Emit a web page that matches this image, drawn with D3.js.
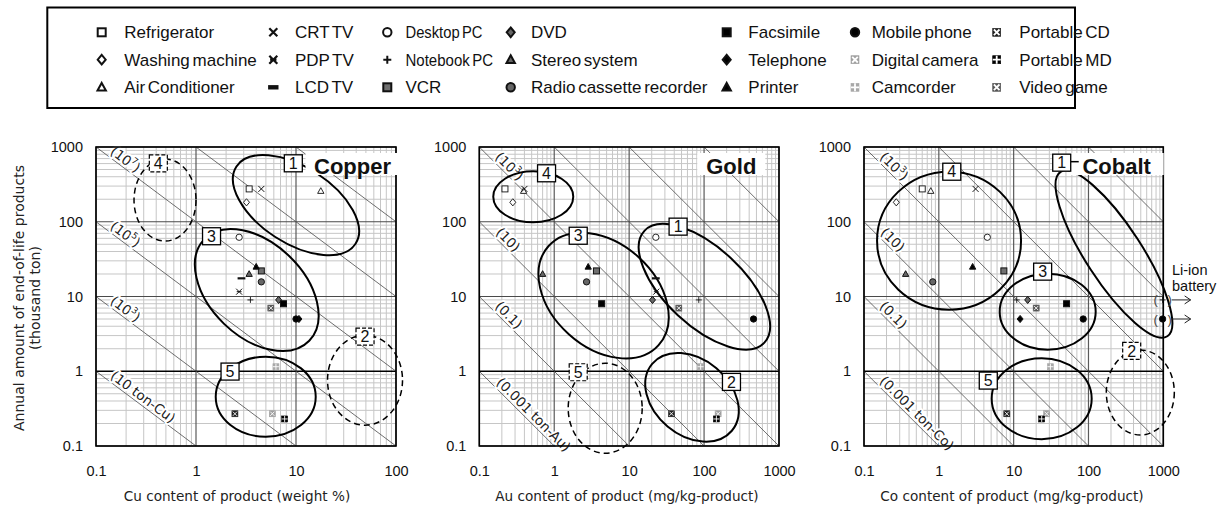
<!DOCTYPE html>
<html>
<head>
<meta charset="utf-8">
<script src="https://cdn.jsdelivr.net/npm/d3@7"></script>
<style>
body { margin: 0; background: #fff; }
svg { display: block; font-family: "Liberation Sans", Arial, sans-serif; }
</style>
</head>
<body>
<div id="root"></div>
<script>
// products, column by column as in the legend
var products = ["Refrigerator", "Washing machine", "Air Conditioner",
                "CRT TV", "PDP TV", "LCD TV",
                "Desktop PC", "Notebook PC", "VCR",
                "DVD", "Stereo system", "Radio cassette recorder",
                "Facsimile", "Telephone", "Printer",
                "Mobile phone", "Digital camera", "Camcorder",
                "Portable CD", "Portable MD", "Video game"];
// annual amount of end-of-life products (thousand ton)
var amount = [275, 182, 258, 275, 11.6, 17.5, 62, 9, 22, 9, 20, 15.7, 8, 5, 25, 5, 0.27, 1.15, 0.27, 0.23, 7];
// Cu content (weight %)
var cuContent = [3.4, 3.2, 17.7, 4.5, 2.7, 2.85, 2.7, 3.5, 4.5, 6.7, 3.4, 4.5, 7.5, 10.7, 4.0, 10, 5.8, 6.3, 2.45, 7.7, 5.6];
// Au content (mg/kg-product)
var auContent = [0.22, 0.28, 0.39, 0.40, 23, 22.7, 22.7, 85, 3.66, 20.5, 0.7, 2.7, 4.3, null, 2.84, 457, 154, 90, 36.7, 146, 46];
// Co content (mg/kg-product)
var coContent = [0.6, 0.27, 0.78, 3.1, null, null, 4.45, 11, 7.4, 15.4, 0.36, 0.83, 51, 12.2, 2.83, 85, 27.6, 31, 8.1, 23.7, 20];
// Li-ion battery points in the cobalt panel
var liIonProducts = ["Notebook PC", "Mobile phone"];
var liIonCo = [980, 980];

var yTicks = [0.1, 1, 10, 100, 1000];

// marker look per product (same order as products)
var markerStyle = [
  {shape: "square", fill: "#fff"}, {shape: "diamond", fill: "#fff"}, {shape: "triangle", fill: "#fff"},
  {shape: "cross"}, {shape: "star"}, {shape: "dash"},
  {shape: "circle", fill: "#fff"}, {shape: "plus"}, {shape: "square", fill: "#707070"},
  {shape: "diamond", fill: "#666"}, {shape: "triangle", fill: "#666"}, {shape: "circle", fill: "#666"},
  {shape: "square", fill: "#000"}, {shape: "diamond", fill: "#000"}, {shape: "triangle", fill: "#000"},
  {shape: "circle", fill: "#000"}, {shape: "boxX", fill: "#a0a0a0"}, {shape: "boxPlus", fill: "#a8a8a8"},
  {shape: "boxX", fill: "#222"}, {shape: "boxPlus", fill: "#000"}, {shape: "boxX", fill: "#555"}
];

var W = 1222, H = 506;
var svg = d3.select("#root").append("svg").attr("width", W).attr("height", H);

function drawMarker(g, st, s, sw) {
  var k = st.shape, col = "#111";
  if (k === "square") {
    g.append("rect").attr("x", -s).attr("y", -s).attr("width", 2 * s).attr("height", 2 * s)
      .attr("fill", st.fill).attr("stroke", col).attr("stroke-width", sw);
  } else if (k === "diamond") {
    g.append("path").attr("d", "M0," + (-s * 1.2) + "L" + s + ",0L0," + (s * 1.2) + "L" + (-s) + ",0Z")
      .attr("fill", st.fill).attr("stroke", col).attr("stroke-width", sw);
  } else if (k === "triangle") {
    g.append("path").attr("d", "M0," + (-s * 1.1) + "L" + (s * 1.05) + "," + (s * 0.8) + "L" + (-s * 1.05) + "," + (s * 0.8) + "Z")
      .attr("fill", st.fill).attr("stroke", col).attr("stroke-width", sw).attr("stroke-linejoin", "miter");
  } else if (k === "circle") {
    g.append("circle").attr("r", s * 1.05).attr("fill", st.fill).attr("stroke", col).attr("stroke-width", sw);
  } else if (k === "cross") {
    g.append("path").attr("d", "M" + (-s) + "," + (-s) + "L" + s + "," + s + "M" + (-s) + "," + s + "L" + s + "," + (-s))
      .attr("stroke", col).attr("stroke-width", sw * 1.1);
  } else if (k === "star") {
    g.append("path").attr("d", "M" + (-s) + "," + (-s) + "L" + s + "," + s + "M" + (-s) + "," + s + "L" + s + "," + (-s) + "M" + (-s * 0.8) + ",0H" + (s * 0.8))
      .attr("stroke", col).attr("stroke-width", sw * 1.1);
  } else if (k === "dash") {
    g.append("path").attr("d", "M" + (-s * 1.3) + ",0H" + (s * 1.3)).attr("stroke", col).attr("stroke-width", sw * 2.2);
  } else if (k === "plus") {
    g.append("path").attr("d", "M" + (-s) + ",0H" + s + "M0," + (-s) + "V" + s).attr("stroke", col).attr("stroke-width", sw);
  } else if (k === "boxX" || k === "boxPlus") {
    g.append("rect").attr("x", -s).attr("y", -s).attr("width", 2 * s).attr("height", 2 * s)
      .attr("fill", st.fill).attr("stroke", st.fill).attr("stroke-width", 0.6);
    var t = s * 0.7;
    var d = k === "boxX" ? "M" + (-t) + "," + (-t) + "L" + t + "," + t + "M" + (-t) + "," + t + "L" + t + "," + (-t)
                         : "M" + (-s) + ",0H" + s + "M0," + (-s) + "V" + s;
    g.append("path").attr("d", d).attr("stroke", "#fff").attr("stroke-width", sw * 0.9);
  }
}

// ---------- legend ----------
var legColMarker = [101.7, 273.3, 387.3, 510.7, 726.7, 855, 996.7];
var legColText = [124.3, 295, 405.5, 531, 748.3, 871.7, 1019.3];
var legRowY = [32.3, 59.7, 87.3];
// the third column is set tighter in the original
var legFit = {"Desktop PC": 77, "Notebook PC": 87.5};

svg.append("rect").attr("x", 47.3).attr("y", 7.5).attr("width", 1027.7).attr("height", 100.5)
  .attr("fill", "none").attr("stroke", "#000").attr("stroke-width", 2);

products.forEach(function(p, i) {
  var c = Math.floor(i / 3), r = i % 3;
  var g = svg.append("g").attr("transform", "translate(" + legColMarker[c] + "," + legRowY[r] + ")");
  drawMarker(g, markerStyle[i], 4, 2);
  var t = svg.append("text").attr("x", legColText[c]).attr("y", legRowY[r]).attr("dy", "0.36em")
    .attr("font-size", 17).attr("word-spacing", -2).attr("fill", "#111").text(p);
  if (legFit[p]) t.attr("textLength", legFit[p]).attr("lengthAdjust", "spacingAndGlyphs");
});

// ---------- panels ----------
var panels = [
  {name: "Copper", values: cuContent, xDomain: [0.1, 100], left: 96, right: 396,
   xTitle: "Cu content of product  (weight %)", xTitleX: 237,
   titleX: 352.5,
   isoLabels: [{k: 2, base: "(10", sup: "7", tail: ")", d: 31}, {k: 1, base: "(10", sup: "5", tail: ")", d: 31},
               {k: 0, base: "(10", sup: "3", tail: ")", d: 31}, {k: -1, base: "(10 ton-Cu)", d: 53}],
   ellipses: [
     {id: "1", cx: 10, cy: 167, rx: 71, ry: 38, rot: 33, dashed: false, bx: 9.4, by: 605},
     {id: "2", cx: 49, cy: 0.76, rx: 37.5, ry: 45, rot: 0, dashed: true, bx: 49, by: 2.9},
     {id: "3", cx: 4.05, cy: 12.2, rx: 73, ry: 47, rot: 44, dashed: false, bx: 1.43, by: 64},
     {id: "4", cx: 0.49, cy: 195, rx: 31, ry: 41, rot: 0, dashed: true, bx: 0.42, by: 605},
     {id: "5", cx: 4.98, cy: 0.457, rx: 50, ry: 40, rot: 0, dashed: false, bx: 2.19, by: 0.99}
   ]},
  {name: "Gold", values: auContent, xDomain: [0.1, 1000], left: 479.3, right: 779,
   xTitle: "Au content of product  (mg/kg-product)", xTitleX: 627,
   titleX: 731.3,
   isoLabels: [{k: 2, base: "(10", sup: "3", tail: ")", d: 35}, {k: 1, base: "(10)", d: 33},
               {k: 0, base: "(0.1)", d: 34}, {k: -1, base: "(0.001 ton-Au)", d: 69}],
   ellipses: [
     {id: "1", cx: 101, cy: 13.5, rx: 82, ry: 39, rot: 43, dashed: false, bx: 45, by: 86},
     {id: "2", cx: 69, cy: 0.448, rx: 52, ry: 38, rot: 40, dashed: false, bx: 232, by: 0.72},
     {id: "3", cx: 4.56, cy: 10.3, rx: 74, ry: 52, rot: 42, dashed: false, bx: 2.09, by: 65},
     {id: "4", cx: 0.525, cy: 216, rx: 40, ry: 25.5, rot: 0, dashed: false, bx: 0.79, by: 445},
     {id: "5", cx: 4.79, cy: 0.32, rx: 37, ry: 45, rot: 0, dashed: true, bx: 2.09, by: 0.97}
   ]},
  {name: "Cobalt", values: coContent, xDomain: [0.1, 1000], left: 864, right: 1163.3,
   xTitle: "Co content of product  (mg/kg-product)", xTitleX: 1012,
   titleX: 1116.7,
   isoLabels: [{k: 2, base: "(10", sup: "3", tail: ")", d: 35}, {k: 1, base: "(10)", d: 33},
               {k: 0, base: "(0.1)", d: 34}, {k: -1, base: "(0.001 ton-Co)", d: 67}],
   ellipses: [
     {id: "1", cx: 219, cy: 37, rx: 98, ry: 28, rot: 57, dashed: false, bx: 43.9, by: 617},
     {id: "2", cx: 493, cy: 0.52, rx: 34, ry: 42.5, rot: 0, dashed: true, bx: 378, by: 1.87},
     {id: "3", cx: 28.5, cy: 6.27, rx: 48, ry: 38, rot: 0, dashed: false, bx: 24.4, by: 21.5},
     {id: "4", cx: 1.37, cy: 55.8, rx: 72, ry: 69, rot: 0, dashed: false, bx: 1.49, by: 467},
     {id: "5", cx: 23.7, cy: 0.43, rx: 50, ry: 40.5, rot: 0, dashed: false, bx: 4.58, by: 0.75}
   ]}
];

var TOP = 147, BOTTOM = 446;

panels.forEach(function(p) {
  var x = d3.scaleLog().domain(p.xDomain).range([p.left, p.right]);
  var y = d3.scaleLog().domain([0.1, 1000]).range([BOTTOM, TOP]);
  var g = svg.append("g").attr("class", "panel");

  // minor grid
  var minorX = [], minorY = [];
  for (var e = Math.log10(p.xDomain[0]); e < Math.log10(p.xDomain[1]); e++)
    for (var m = 2; m <= 9; m++) minorX.push(m * Math.pow(10, e));
  for (var e2 = -1; e2 < 3; e2++)
    for (var m2 = 2; m2 <= 9; m2++) minorY.push(m2 * Math.pow(10, e2));

  g.append("g").selectAll("line").data(minorX).enter().append("line")
    .attr("x1", function(d) { return x(d); }).attr("x2", function(d) { return x(d); })
    .attr("y1", TOP).attr("y2", BOTTOM).attr("stroke", "#c6c6c6").attr("stroke-width", 1);
  g.append("g").selectAll("line").data(minorY).enter().append("line")
    .attr("y1", function(d) { return y(d); }).attr("y2", function(d) { return y(d); })
    .attr("x1", p.left).attr("x2", p.right).attr("stroke", "#c6c6c6").attr("stroke-width", 1);

  var majorX = x.ticks().filter(function(d) { return Math.abs(Math.log10(d) % 1) < 1e-9; });
  g.append("g").selectAll("line").data(majorX).enter().append("line")
    .attr("x1", function(d) { return x(d); }).attr("x2", function(d) { return x(d); })
    .attr("y1", TOP).attr("y2", BOTTOM).attr("stroke", "#5a5a5a").attr("stroke-width", 1.2);
  g.append("g").selectAll("line").data(yTicks).enter().append("line")
    .attr("y1", function(d) { return y(d); }).attr("y2", function(d) { return y(d); })
    .attr("x1", p.left).attr("x2", p.right)
    .attr("stroke", function(d) { return d === 1 ? "#000" : "#4a4a4a"; })
    .attr("stroke-width", function(d) { return d === 1 ? 1.5 : 1.2; });

  // iso-amount diagonal lines (x * y = const)
  var x0d = p.xDomain[0], x1d = p.xDomain[1];
  var isoLines = [];
  for (var k = -1; k <= 5; k++) {
    var c = Math.pow(10, k);
    var xa = Math.max(x0d, c / 1000), xb = Math.min(x1d, c / 0.1);
    if (xb > xa * 1.001) isoLines.push({k: k, xa: xa, xb: xb, c: c});
  }
  g.append("g").selectAll("line").data(isoLines).enter().append("line")
    .attr("x1", function(d) { return x(d.xa); }).attr("y1", function(d) { return y(d.c / d.xa); })
    .attr("x2", function(d) { return x(d.xb); }).attr("y2", function(d) { return y(d.c / d.xb); })
    .attr("stroke", "#4a4a4a").attr("stroke-width", 0.8);

  p.isoLabels.forEach(function(lb) {
    var line = isoLines.filter(function(l) { return l.k === lb.k; })[0];
    var X1 = x(line.xa), Y1 = y(line.c / line.xa), X2 = x(line.xb), Y2 = y(line.c / line.xb);
    var ang = Math.atan2(Y2 - Y1, X2 - X1);
    var px = X1 + lb.d * Math.cos(ang), py = Y1 + lb.d * Math.sin(ang);
    var t = g.append("text").attr("transform", "translate(" + px + "," + py + ") rotate(" + (ang * 180 / Math.PI) + ")")
      .attr("y", -3).attr("text-anchor", "middle")
      .attr("font-family", "'DejaVu Sans', Verdana, sans-serif").attr("font-size", 13.5).attr("fill", "#222")
      .attr("stroke", "#fff").attr("stroke-width", 4).attr("paint-order", "stroke").attr("stroke-linejoin", "round");
    t.append("tspan").text(lb.base);
    if (lb.sup) {
      t.append("tspan").attr("font-size", 9).attr("dy", -6).text(lb.sup);
      t.append("tspan").attr("dy", 6).text(lb.tail);
    }
  });

  // frame
  g.append("rect").attr("x", p.left).attr("y", TOP).attr("width", p.right - p.left).attr("height", BOTTOM - TOP)
    .attr("fill", "none").attr("stroke", "#000").attr("stroke-width", 1.6);

  // axes
  var ax = g.append("g").attr("transform", "translate(0," + BOTTOM + ")")
    .call(d3.axisBottom(x).tickValues(majorX).tickFormat(d3.format("~g")).tickSize(0).tickPadding(20));
  var ay = g.append("g").attr("transform", "translate(" + p.left + ",0)")
    .call(d3.axisLeft(y).tickValues(yTicks).tickFormat(d3.format("~g")).tickSize(0).tickPadding(13));
  [ax, ay].forEach(function(a) {
    a.select(".domain").remove();
    a.selectAll("text").attr("font-family", "'Liberation Sans', Arial, sans-serif").attr("font-size", 14.5).attr("fill", "#111");
  });

  g.append("text").attr("x", p.xTitleX).attr("y", 501).attr("text-anchor", "middle")
    .attr("font-family", "'DejaVu Sans', Verdana, sans-serif").attr("font-size", 13.6).attr("fill", "#222")
    .text(p.xTitle);

  // ellipses
  p.ellipses.forEach(function(el) {
    g.append("ellipse").attr("transform", "translate(" + x(el.cx) + "," + y(el.cy) + ") rotate(" + el.rot + ")")
      .attr("rx", el.rx).attr("ry", el.ry).attr("fill", "none").attr("stroke", "#000")
      .attr("stroke-width", el.dashed ? 1.5 : 2).attr("stroke-dasharray", el.dashed ? "6,4" : null);
  });

  // points
  var pts = [];
  p.values.forEach(function(v, i) { if (v != null) pts.push({i: i, x: v, y: amount[i]}); });
  var pg = g.append("g").selectAll("g").data(pts).enter().append("g")
    .attr("transform", function(d) { return "translate(" + x(d.x) + "," + y(d.y) + ")"; });
  pg.each(function(d) {
    var st = markerStyle[d.i];
    var open = st.fill === "#fff" || st.shape === "cross" || st.shape === "star" || st.shape === "plus";
    drawMarker(d3.select(this), st, 3, open ? 0.9 : 1);
  });

  // Li-ion battery points (cobalt)
  if (p.name === "Cobalt") {
    liIonProducts.forEach(function(name, j) {
      var i = products.indexOf(name);
      var px = x(liIonCo[j]), py = y(amount[i]);
      var lg = g.append("g").attr("transform", "translate(" + px + "," + py + ")");
      drawMarker(lg, markerStyle[i], 3, 1);
      lg.append("text").attr("x", -7).attr("dy", "0.35em").attr("text-anchor", "middle").attr("font-size", 13).attr("fill", "#444").text("(");
      lg.append("text").attr("x", 7).attr("dy", "0.35em").attr("text-anchor", "middle").attr("font-size", 13).attr("fill", "#444").text(")");
      g.append("path").attr("d", "M" + (px + 9) + "," + py + "H" + (px + 28) + "M" + (px + 22) + "," + (py - 4) + "L" + (px + 28) + "," + py + "L" + (px + 22) + "," + (py + 4))
        .attr("fill", "none").attr("stroke", "#222").attr("stroke-width", 1);
    });
    g.append("text").attr("x", 1172).attr("y", 275).attr("font-size", 14.5).attr("fill", "#111").text("Li-ion");
    g.append("text").attr("x", 1172).attr("y", 291).attr("font-size", 14.5).attr("fill", "#111").text("battery");
  }

  // metal name
  var tw = p.name.length * 13;
  g.append("rect").attr("x", p.titleX - tw / 2 - 8).attr("y", 153).attr("width", tw + 16).attr("height", 22).attr("fill", "#fff");
  g.append("text").attr("x", p.titleX).attr("y", 174).attr("text-anchor", "middle")
    .attr("font-size", 22).attr("font-weight", "bold").attr("fill", "#111").text(p.name);

  // numbered boxes
  p.ellipses.forEach(function(el) {
    var bx = x(el.bx), by = y(el.by);
    if (p.name === "Cobalt" && el.id === "1") {
      g.append("line").attr("x1", bx + 9).attr("x2", bx + 17).attr("y1", by - 1).attr("y2", by - 1).attr("stroke", "#000").attr("stroke-width", 1.5);
    }
    g.append("rect").attr("x", bx - 9).attr("y", by - 8.5).attr("width", 18).attr("height", 17)
      .attr("fill", "#fff").attr("stroke", "#000").attr("stroke-width", el.dashed ? 1.2 : 1.3)
      .attr("stroke-dasharray", el.dashed ? "4,2" : null);
    g.append("text").attr("x", bx).attr("y", by).attr("dy", "0.36em").attr("text-anchor", "middle")
      .attr("font-size", 16).attr("fill", "#111").text(el.id);
  });
});

// y axis title
var yt = svg.append("g").attr("transform", "translate(19,298) rotate(-90)")
  .attr("font-family", "'DejaVu Sans', Verdana, sans-serif").attr("font-size", 14).attr("fill", "#222");
yt.append("text").attr("text-anchor", "middle").attr("dy", "0.35em").text("Annual amount of end-of-life products");
yt.append("text").attr("text-anchor", "middle").attr("y", 16).attr("dy", "0.35em").text("(thousand ton)");
</script>
</body>
</html>
